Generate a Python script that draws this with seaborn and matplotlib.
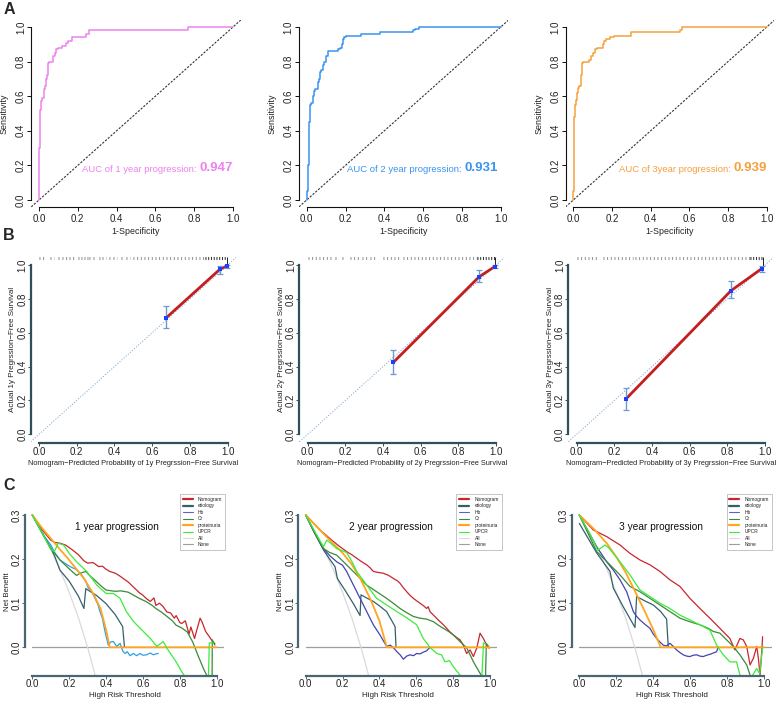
import numpy as np
import matplotlib.pyplot as plt
import seaborn as sns
import pandas as pd
from matplotlib.lines import Line2D

sns.set_theme(style="ticks")
plt.rcParams['font.family'] = ['Liberation Sans', 'DejaVu Sans']

# ---------------- A: ROC curves ----------------
roc1_fpr = [0, 0, 0.005, 0.005, 0.01, 0.015, 0.025, 0.03, 0.035, 0.04, 0.045, 0.05, 0.07, 0.08,
            0.09, 0.10, 0.12, 0.14, 0.15, 0.17, 0.18, 0.24, 0.245, 0.26, 0.265, 0.77, 0.77, 1.0]
roc1_tpr = [0, 0.2, 0.3, 0.48, 0.52, 0.57, 0.59, 0.64, 0.66, 0.70, 0.72, 0.79, 0.80, 0.83,
            0.85, 0.87, 0.88, 0.89, 0.91, 0.92, 0.94, 0.94, 0.96, 0.96, 0.98, 0.98, 1.0, 1.0]
roc2_fpr = [0, 0.005, 0.01, 0.015, 0.02, 0.03, 0.035, 0.04, 0.045, 0.06, 0.065, 0.07, 0.075, 0.085,
            0.09, 0.10, 0.11, 0.115, 0.16, 0.17, 0.18, 0.185, 0.19, 0.20, 0.23, 0.28, 0.30, 0.38,
            0.39, 0.55, 0.56, 0.58, 0.76, 1.0]
roc2_tpr = [0, 0.05, 0.2, 0.45, 0.55, 0.56, 0.58, 0.60, 0.63, 0.64, 0.68, 0.70, 0.74, 0.75,
            0.78, 0.80, 0.83, 0.86, 0.86, 0.87, 0.88, 0.90, 0.93, 0.94, 0.95, 0.95, 0.96, 0.96,
            0.97, 0.97, 0.98, 0.99, 1.0, 1.0]
roc3_fpr = [0, 0.005, 0.005, 0.01, 0.015, 0.02, 0.025, 0.03, 0.04, 0.045, 0.05, 0.08, 0.09, 0.10,
            0.11, 0.12, 0.155, 0.16, 0.17, 0.19, 0.21, 0.22, 0.30, 0.33, 0.55, 0.56, 0.91, 1.0]
roc3_tpr = [0, 0.05, 0.47, 0.48, 0.55, 0.58, 0.62, 0.65, 0.66, 0.72, 0.79, 0.80, 0.81, 0.83,
            0.85, 0.87, 0.88, 0.90, 0.92, 0.93, 0.94, 0.95, 0.95, 0.97, 0.97, 0.98, 1.0, 1.0]
roc_years = ["1 year", "2 year", "3year"]
roc_auc = ["0.947", "0.931", "0.939"]
roc_colors = ["#EE82EE", "#3A94F0", "#F5A03C"]
auc_right_x = [1.0, 0.986, 1.0]

# ---------------- B: calibration ----------------
cal_pred = [[0.671, 0.959, 0.995], [0.455, 0.911, 0.993], [0.260, 0.819, 0.982]]
cal_obs = [[0.685, 0.975, 0.993], [0.425, 0.931, 0.990], [0.207, 0.848, 0.978]]
cal_lo = [[0.626, 0.949, 0.985], [0.354, 0.898, 0.982], [0.144, 0.803, 0.959]]
cal_hi = [[0.758, 0.996, 1.000], [0.498, 0.970, 0.998], [0.272, 0.907, 0.996]]
rug_spans = [
    [(0.0, 0.031), (0.058, 0.08), (0.100, 0.106), (0.12, 0.147), (0.161, 0.191), (0.205, 0.211),
     (0.223, 0.229), (0.237, 0.243), (0.253, 0.259), (0.267, 0.273), (0.284, 0.302), (0.317, 0.323),
     (0.332, 0.355), (0.373, 0.379), (0.394, 0.415), (0.433, 0.443), (0.459, 0.482), (0.5, 0.88)],
    [(0.0, 0.13), (0.145, 0.163), (0.18, 0.198), (0.225, 0.278), (0.287, 0.313), (0.331, 0.357),
     (0.4, 0.49), (0.508, 0.897)],
    [(0.0, 0.106), (0.141, 0.3), (0.31, 0.92)],
]
rug_dark = [(0.88, 0.995), (0.897, 0.995), (0.92, 0.99)]
cal_years = ["1y", "2y", "3y"]

# ---------------- C: decision curves ----------------
dca_labels = ["Nomogram", "etiology", "Hb", "Cr", "proteinuria", "UPCR", "All", "None"]
all_x = [0, 0.05, 0.10, 0.15, 0.20, 0.25, 0.30, 0.35]
all_y = [0.300, 0.263, 0.222, 0.176, 0.125, 0.067, 0.0, -0.077]

c1_nom_x = [0, 0.05, 0.10, 0.12, 0.15, 0.18, 0.20, 0.22, 0.25, 0.28, 0.30, 0.33, 0.36, 0.38, 0.40,
            0.42, 0.45, 0.47, 0.50, 0.52, 0.55, 0.58, 0.60, 0.62, 0.64, 0.66, 0.67, 0.69, 0.71, 0.73,
            0.75, 0.77, 0.78, 0.80, 0.81, 0.83, 0.85, 0.86, 0.88, 0.89, 0.91, 0.92, 0.94, 0.96,
            0.98, 0.99]
c1_nom_y = [0.300, 0.268, 0.243, 0.238, 0.236, 0.232, 0.226, 0.220, 0.210, 0.196, 0.191, 0.192,
            0.183, 0.184, 0.177, 0.172, 0.168, 0.163, 0.154, 0.148, 0.136, 0.124, 0.118, 0.110,
            0.104, 0.112, 0.095, 0.100, 0.092, 0.080, 0.078, 0.066, 0.072, 0.056, 0.054, 0.060,
            0.030, 0.046, 0.020, 0.036, 0.066, 0.058, 0.036, 0.024, 0.012, 0.008]
c1_eti_x = [0, 0.05, 0.10, 0.12, 0.15, 0.20, 0.25, 0.28, 0.29, 0.35, 0.40, 0.45, 0.49, 0.50]
c1_eti_y = [0.300, 0.262, 0.225, 0.208, 0.175, 0.150, 0.116, 0.088, 0.133, 0.117, 0.099, 0.074,
            0.047, 0.000]
c1_hb_x = [0, 0.06, 0.10, 0.123, 0.15, 0.186, 0.21, 0.24, 0.268, 0.29, 0.304, 0.32, 0.34, 0.355,
           0.367, 0.38, 0.394, 0.412, 0.425, 0.44, 0.458, 0.476, 0.49, 0.503, 0.515, 0.53, 0.548,
           0.566, 0.584, 0.60, 0.62, 0.64, 0.656, 0.67, 0.683]
c1_hb_y = [0.300, 0.255, 0.232, 0.214, 0.198, 0.188, 0.182, 0.176, 0.164, 0.150, 0.134, 0.128,
           0.111, 0.098, 0.081, 0.066, 0.036, 0.005, 0.012, 0.013, 0.002, 0.009, -0.008, -0.014,
           -0.010, -0.019, -0.014, -0.019, -0.014, -0.018, -0.017, -0.013, -0.017, -0.015, -0.014]
c1_cr_x = [0, 0.05, 0.10, 0.15, 0.20, 0.24, 0.26, 0.29, 0.31, 0.34, 0.37, 0.40, 0.43, 0.45, 0.48,
           0.52, 0.55, 0.58, 0.62, 0.65, 0.67, 0.70, 0.73, 0.76, 0.78, 0.81, 0.84, 0.87, 0.90,
           0.93, 0.96, 0.975, 0.976, 0.99]
c1_cr_y = [0.300, 0.262, 0.224, 0.198, 0.178, 0.163, 0.168, 0.172, 0.163, 0.152, 0.140, 0.130,
           0.128, 0.127, 0.128, 0.125, 0.118, 0.111, 0.103, 0.095, 0.088, 0.080, 0.070, 0.060,
           0.050, 0.044, 0.035, 0.012, -0.020, -0.050, -0.075, -0.080, 0.017, 0.005]
c1_pro_x = [0, 0.05, 0.10, 0.15, 0.19, 0.23, 0.28, 0.33, 0.37, 0.40, 0.42, 1.0]
c1_pro_y = [0.300, 0.272, 0.247, 0.222, 0.203, 0.182, 0.156, 0.122, 0.088, 0.040, 0.0, 0.0]
c1_upcr_x = [0, 0.05, 0.10, 0.12, 0.14, 0.17, 0.20, 0.24, 0.295, 0.35, 0.40, 0.44, 0.476, 0.51,
             0.55, 0.585, 0.64, 0.675, 0.71, 0.73, 0.78, 0.81, 0.83, 0.87, 0.92, 0.955, 0.96, 0.98]
c1_upcr_y = [0.300, 0.262, 0.222, 0.217, 0.236, 0.232, 0.213, 0.194, 0.172, 0.141, 0.122, 0.122,
             0.111, 0.081, 0.058, 0.043, 0.020, 0.002, 0.013, -0.002, -0.033, -0.055, -0.068,
             -0.072, -0.075, -0.070, 0.010, 0.010]

c2_nom_x = [0, 0.078, 0.141, 0.186, 0.222, 0.25, 0.277, 0.30, 0.331, 0.35, 0.367, 0.39, 0.421,
            0.45, 0.476, 0.50, 0.512, 0.53, 0.548, 0.566, 0.584, 0.60, 0.62, 0.64, 0.656, 0.665,
            0.674, 0.693, 0.71, 0.729, 0.745, 0.765, 0.78, 0.801, 0.82, 0.837, 0.855, 0.873,
            0.892, 0.91, 0.928, 0.946, 0.964, 0.982, 0.996]
c2_nom_y = [0.300, 0.266, 0.243, 0.228, 0.217, 0.21, 0.202, 0.195, 0.187, 0.18, 0.172, 0.17,
            0.168, 0.163, 0.156, 0.15, 0.145, 0.135, 0.126, 0.118, 0.111, 0.106, 0.100, 0.094,
            0.088, 0.092, 0.081, 0.073, 0.066, 0.058, 0.052, 0.043, 0.036, 0.028, 0.022, 0.017,
            0.005, -0.014, -0.006, -0.021, -0.002, 0.032, 0.020, 0.005, -0.002]
c2_eti_x = [0, 0.05, 0.096, 0.13, 0.159, 0.172, 0.22, 0.26, 0.295, 0.30, 0.33, 0.367, 0.40, 0.439,
            0.485, 0.49]
c2_eti_y = [0.300, 0.258, 0.221, 0.200, 0.183, 0.156, 0.125, 0.098, 0.072, 0.119, 0.112, 0.104,
            0.094, 0.081, 0.047, 0.000]
c2_hb_x = [0, 0.05, 0.096, 0.13, 0.168, 0.20, 0.222, 0.259, 0.295, 0.331, 0.367, 0.403, 0.439,
           0.458, 0.476, 0.495, 0.512, 0.53, 0.548, 0.566, 0.585, 0.602, 0.62, 0.638, 0.656, 0.674]
c2_hb_y = [0.300, 0.258, 0.224, 0.208, 0.194, 0.186, 0.172, 0.141, 0.111, 0.081, 0.051, 0.028,
           0.002, 0.005, -0.001, -0.010, -0.017, -0.027, -0.020, -0.017, -0.019, -0.014, -0.015,
           -0.011, -0.008, 0.000]
c2_cr_x = [0, 0.05, 0.096, 0.13, 0.168, 0.222, 0.277, 0.331, 0.385, 0.439, 0.475, 0.512, 0.55,
           0.584, 0.62, 0.656, 0.693, 0.72, 0.747, 0.775, 0.801, 0.837, 0.873, 0.892, 0.91, 0.946,
           0.964, 0.975, 0.98, 0.99]
c2_cr_y = [0.300, 0.258, 0.224, 0.215, 0.209, 0.187, 0.164, 0.141, 0.126, 0.111, 0.100, 0.088,
           0.078, 0.070, 0.066, 0.064, 0.058, 0.050, 0.043, 0.036, 0.028, 0.013, -0.001, -0.017,
           -0.033, -0.059, -0.070, -0.080, 0.008, 0.004]
c2_pro_x = [0, 0.05, 0.10, 0.15, 0.20, 0.25, 0.30, 0.35, 0.40, 0.43, 0.44, 1.0]
c2_pro_y = [0.300, 0.278, 0.256, 0.235, 0.214, 0.188, 0.153, 0.110, 0.060, 0.015, 0.0, 0.0]
c2_upcr_x = [0, 0.05, 0.096, 0.114, 0.13, 0.168, 0.222, 0.25, 0.277, 0.331, 0.385, 0.439, 0.494,
             0.548, 0.602, 0.638, 0.674, 0.711, 0.737, 0.756, 0.78, 0.801, 0.837, 0.87, 0.92,
             0.955, 0.965, 0.975]
c2_upcr_y = [0.300, 0.262, 0.228, 0.243, 0.238, 0.224, 0.215, 0.195, 0.172, 0.141, 0.111, 0.096,
             0.081, 0.067, 0.051, 0.020, 0.000, -0.014, -0.017, -0.033, -0.030, -0.044, -0.063,
             -0.072, -0.075, -0.072, 0.010, 0.008]

c3_nom_x = [0, 0.076, 0.148, 0.22, 0.274, 0.328, 0.382, 0.436, 0.49, 0.544, 0.598, 0.652, 0.706,
            0.76, 0.814, 0.841, 0.868, 0.886, 0.905, 0.923, 0.941, 0.959, 0.968, 0.977, 0.986, 0.991]
c3_nom_y = [0.300, 0.266, 0.251, 0.232, 0.213, 0.198, 0.187, 0.172, 0.153, 0.138, 0.111, 0.088,
            0.066, 0.043, 0.020, -0.006, 0.020, 0.017, 0.002, -0.040, -0.025, 0.002, -0.025,
            -0.063, -0.010, 0.024]
c3_eti_x = [0, 0.094, 0.166, 0.184, 0.24, 0.301, 0.31, 0.36, 0.40, 0.44, 0.472, 0.481]
c3_eti_y = [0.281, 0.214, 0.172, 0.134, 0.090, 0.045, 0.115, 0.104, 0.096, 0.081, 0.064, 0.000]
c3_hb_x = [0, 0.094, 0.148, 0.184, 0.22, 0.256, 0.292, 0.31, 0.328, 0.355, 0.382, 0.40, 0.418,
           0.436, 0.454, 0.47, 0.49, 0.508, 0.526, 0.544, 0.562, 0.58, 0.598, 0.616, 0.634, 0.652,
           0.67, 0.688, 0.706, 0.724, 0.742, 0.751]
c3_hb_y = [0.300, 0.228, 0.194, 0.175, 0.153, 0.126, 0.081, 0.070, 0.062, 0.052, 0.043, 0.030,
           0.020, 0.012, 0.005, 0.003, 0.009, 0.002, -0.006, -0.012, -0.017, -0.020, -0.021,
           -0.018, -0.017, -0.020, -0.021, -0.018, -0.016, -0.013, -0.010, 0.000]
c3_cr_x = [0, 0.094, 0.166, 0.22, 0.274, 0.328, 0.382, 0.436, 0.49, 0.544, 0.598, 0.652, 0.697,
           0.724, 0.76, 0.796, 0.832, 0.868, 0.905, 0.923, 0.932]
c3_cr_y = [0.300, 0.217, 0.187, 0.164, 0.138, 0.126, 0.111, 0.096, 0.081, 0.066, 0.058, 0.051,
           0.043, 0.036, 0.032, 0.017, 0.002, -0.017, -0.040, -0.063, -0.080]
c3_pro_x = [0, 0.08, 0.15, 0.20, 0.25, 0.30, 0.35, 0.40, 0.44, 1.0]
c3_pro_y = [0.300, 0.268, 0.235, 0.205, 0.170, 0.128, 0.085, 0.040, 0.000, 0.000]
c3_upcr_x = [0, 0.06, 0.10, 0.139, 0.16, 0.22, 0.274, 0.328, 0.382, 0.436, 0.49, 0.544, 0.598,
             0.652, 0.706, 0.742, 0.778, 0.814, 0.85, 0.868, 0.92, 0.959, 0.975, 0.991]
c3_upcr_y = [0.300, 0.255, 0.220, 0.232, 0.225, 0.194, 0.164, 0.130, 0.115, 0.100, 0.088, 0.073,
             0.062, 0.051, 0.039, 0.005, -0.017, -0.033, -0.033, -0.063, -0.075, -0.048, -0.060,
             0.000]

dca_titles = ["1 year progression", "2 year progression", "3 year progression"]
dca_title_x = [0.46, 0.46, 0.44]
dca_curves = [
    [(c1_nom_x, c1_nom_y), (c1_eti_x, c1_eti_y), (c1_hb_x, c1_hb_y), (c1_cr_x, c1_cr_y),
     (c1_pro_x, c1_pro_y), (c1_upcr_x, c1_upcr_y)],
    [(c2_nom_x, c2_nom_y), (c2_eti_x, c2_eti_y), (c2_hb_x, c2_hb_y), (c2_cr_x, c2_cr_y),
     (c2_pro_x, c2_pro_y), (c2_upcr_x, c2_upcr_y)],
    [(c3_nom_x, c3_nom_y), (c3_eti_x, c3_eti_y), (c3_hb_x, c3_hb_y), (c3_cr_x, c3_cr_y),
     (c3_pro_x, c3_pro_y), (c3_upcr_x, c3_upcr_y)],
]
dca_colors = ["#C8262E", "#35606B", "#4343B0", "#3A8A3A", "#FFA51F", "#3CEB3C"]
hb_colors = ["#2E9FE6", "#4343B0", "#4343B0"]
legend_colors = ["#C8262E", "#35606B", "#6060C8", "#3A8A3A", "#FFA51F", "#3CEB3C", "#DADADA", "#9E9E9E"]
legend_widths = [1.6, 1.6, 0.8, 0.8, 1.6, 0.8, 0.8, 0.8]

# ---------------- layout helpers ----------------
W, H = 784, 701
fig = plt.figure(figsize=(W / 100, H / 100), dpi=100)
AX_COL = "#2F4F5A"
TICK_FS = 7


def place(px0, px1, xlim, py0, py1, yv0, yv1, ylim):
    sx = px1 - px0
    left, right = px0 + xlim[0] * sx, px0 + xlim[1] * sx
    sy = (py0 - py1) / (yv1 - yv0)
    bottom = py0 - (ylim[0] - yv0) * sy
    top = py0 - (ylim[1] - yv0) * sy
    ax = fig.add_axes([left / W, 1 - bottom / H, (right - left) / W, (bottom - top) / H])
    ax.set_xlim(xlim)
    ax.set_ylim(ylim)
    ax.set_facecolor("none")
    return ax, right - left, bottom - top


def style(ax, w, h, yticks, ybounds, col, lw, tlen, xpad, ypad, xlab, ylab, xdy, ydx,
          xfs, yfs):
    sns.despine(ax=ax)
    xt = [0, 0.2, 0.4, 0.6, 0.8, 1.0]
    ax.set_xticks(xt)
    ax.set_xticklabels([f"{t:.1f}" for t in xt])
    ax.set_yticks(yticks)
    ax.set_yticklabels([f"{t:.1f}" for t in yticks])
    ax.spines["bottom"].set_bounds(0, 1)
    ax.spines["left"].set_bounds(*ybounds)
    for s in ["bottom", "left"]:
        ax.spines[s].set_color(col)
        ax.spines[s].set_linewidth(lw)
    ax.tick_params(axis="both", length=tlen, width=0.7, color=col, labelsize=TICK_FS,
                   labelcolor="#222222")
    ax.tick_params(axis="x", pad=xpad)
    ax.tick_params(axis="y", pad=ypad, labelrotation=90)
    for t in ax.get_yticklabels():
        t.set_va("center")
    ax.set_xlabel(xlab, fontsize=xfs, color="#222222")
    ax.set_ylabel(ylab, fontsize=yfs, color="#222222")
    ax.xaxis.set_label_coords(0.5, -xdy / h)
    ax.yaxis.set_label_coords(-ydx / w, 0.5)
    ax.xaxis.label.set_va("center")
    ax.yaxis.label.set_va("center")
    ax.grid(False)


# ---------------- row A ----------------
roc_data = [(roc1_fpr, roc1_tpr), (roc2_fpr, roc2_tpr), (roc3_fpr, roc3_tpr)]
a_x0 = [39, 306.7, 573.3]
a_x1 = [233, 500.7, 766.7]
for i in range(3):
    ax, w, h = place(a_x0[i], a_x1[i], (-0.04, 1.04), 200, 27, 0, 1, (-0.04, 1.04))
    ax.axline((0, 0), (1, 1), color="#333333", lw=0.8, ls=(0, (2, 1.3)))
    fpr, tpr = roc_data[i]
    sns.lineplot(x=fpr, y=tpr, sort=False, estimator=None, color=roc_colors[i], lw=1.1,
                 drawstyle="steps-pre", ax=ax)
    t2 = ax.text(auc_right_x[i], 0.15, roc_auc[i], ha="right", va="bottom",
                 fontsize=9.5, fontweight="bold", color=roc_colors[i])
    ax.annotate(f"AUC of {roc_years[i]} progression: ", xy=(0, 0), xycoords=t2,
                ha="right", va="bottom", fontsize=6.8, color=roc_colors[i])
    style(ax, w, h, [0, 0.2, 0.4, 0.6, 0.8, 1.0], (0, 1), "#111111", 0.8, 3, 1.8, 0.7,
          "1-Specificity", "Sensitivity", 25, 27, 6.4, 6.4)

# ---------------- row B ----------------
b_x0 = [39, 307.7, 576.7]
b_x1 = [227.7, 496, 765]
for i in range(3):
    ax, w, h = place(b_x0[i], b_x1[i], (-0.044, 1.044), 434.3, 265, 0, 1, (-0.053, 1.06))
    ax.axline((0, 0), (1, 1), color="#8DB0DA", lw=0.8, ls=(0, (1, 1.5)))
    for a, b in rug_spans[i]:
        ax.hlines(1.043, a, b, color="#8A8A8A", lw=2.2, linestyles=(0, (0.3, 0.9)))
    a, b = rug_dark[i]
    ax.hlines(1.043, a, b, color="#222222", lw=2.2, linestyles=(0, (0.3, 0.6)))
    ax.vlines(b, cal_obs[i][-1] + 0.005, 1.05, color="#222222", lw=0.7)
    sns.lineplot(x=cal_pred[i], y=cal_obs[i], color="#C41E1E", lw=2.0, ax=ax)
    obs = np.array(cal_obs[i])
    ax.errorbar(cal_pred[i], obs, yerr=[obs - np.array(cal_lo[i]), np.array(cal_hi[i]) - obs],
                fmt="none", ecolor="#6E9AD0", elinewidth=1.0, capsize=2.2, capthick=0.9)
    sns.scatterplot(x=cal_pred[i], y=cal_obs[i], marker="s", color="#1F3FFF", s=9,
                    edgecolor="none", ax=ax, zorder=5)
    yr = cal_years[i]
    style(ax, w, h, [0, 0.2, 0.4, 0.6, 0.8, 1.0], (0, 1), AX_COL, 1.6, 2, 0.8, 0.4,
          f"Nomogram\u2212Predicted Probability of {yr} Pregrssion\u2212Free Survival",
          f"Actual {yr} Pregrssion\u2212Free Survival", 20.7, 18, 5.3, 5.8)

# ---------------- row C ----------------
c_x0 = [32.3, 305.7, 579.3]
c_x1 = [216.7, 490, 764.3]
leg_left = [180, 456.5, 726.5]
for i in range(3):
    ax, w, h = place(c_x0[i], c_x1[i], (-0.04, 1.04), 647.3, 515, 0, 0.3, (-0.064, 0.314))
    ax.axhline(0, xmin=0.04 / 1.08, color="#9E9E9E", lw=0.9)
    sns.lineplot(x=all_x, y=all_y, sort=False, estimator=None, color="#DADADA", lw=0.9, ax=ax)
    for j, (cx, cy) in enumerate(dca_curves[i]):
        col = hb_colors[i] if j == 2 else dca_colors[j]
        sns.lineplot(x=cx, y=cy, sort=False, estimator=None, color=col,
                     lw=1.3 if j == 4 else 0.9, ax=ax)
    ax.text(dca_title_x[i], 0.273, dca_titles[i], ha="center", va="center", fontsize=7.3,
            color="#111111")
    handles = [Line2D([], [], color=c, lw=lw) for c, lw in zip(legend_colors, legend_widths)]
    leg = ax.legend(handles, dca_labels, loc="upper left",
                    bbox_to_anchor=(leg_left[i] / W, 1 - 494 / H), bbox_transform=fig.transFigure,
                    fontsize=3.5, frameon=True, fancybox=False, edgecolor="#9A9A9A",
                    borderpad=0.6, labelspacing=0.3, handlelength=2.0, handletextpad=1.1,
                    borderaxespad=0)
    leg.get_frame().set_linewidth(0.5)
    style(ax, w, h, [0, 0.1, 0.2, 0.3], (0, 0.3), "#4A6673", 1.6, 2, 0.8, 0.2,
          "High Risk Threshold", "Net Benefit", 19.5, 17.5, 5.8, 5.6)

for lab, y in zip(["A", "B", "C"], [10, 235, 486]):
    fig.text(9 / W, 1 - y / H, lab, fontsize=11.5, fontweight="bold", ha="center", va="center")

fig.savefig("out.png", dpi=100)
